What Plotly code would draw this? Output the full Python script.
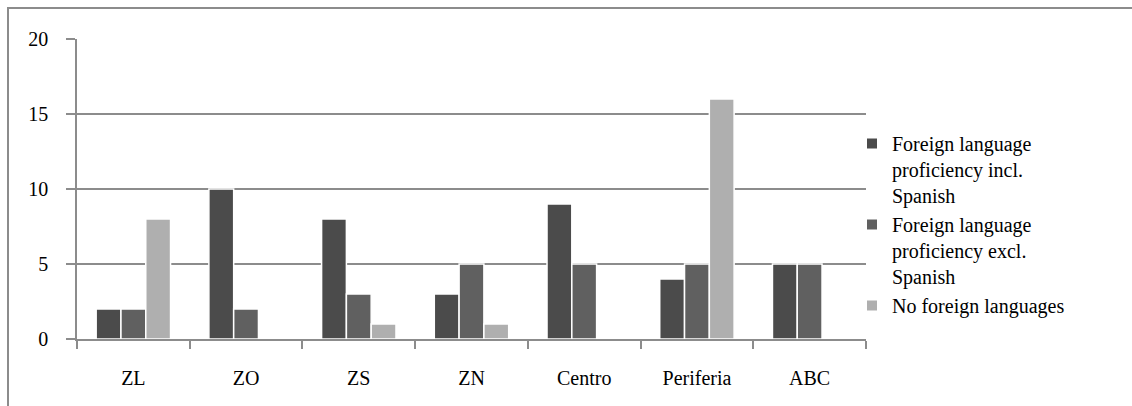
import plotly.graph_objects as go

categories = ["ZL", "ZO", "ZS", "ZN", "Centro", "Periferia", "ABC"]
incl_spanish = [2, 10, 8, 3, 9, 4, 5]
excl_spanish = [2, 2, 3, 5, 5, 5, 5]
no_foreign = [8, 0, 1, 1, 0, 16, 0]

names = [
    "Foreign language<br>proficiency incl.<br>Spanish",
    "Foreign language<br>proficiency excl.<br>Spanish",
    "No foreign languages",
]
colors = ["#4b4b4b", "#606060", "#afafaf"]
series = [incl_spanish, excl_spanish, no_foreign]

FONT = "'Times New Roman', 'Liberation Serif', 'DejaVu Serif', serif"
FS = 20

fig = go.Figure()
for name, vals, col in zip(names, series, colors):
    fig.add_trace(go.Bar(
        x=categories, y=vals, name=name,
        marker=dict(color=col, line=dict(color="white", width=1.5)),
    ))

W, H = 1132, 406
L, R, T, B = 77, 266, 39, 67
pw = W - L - R
ph = H - T - B

fig.update_layout(
    width=W, height=H,
    margin=dict(l=L, r=R, t=T, b=B, pad=0),
    paper_bgcolor="white", plot_bgcolor="white",
    barmode="group", bargap=0.34, bargroupgap=0,
    font=dict(family=FONT, size=FS, color="black"),
    showlegend=True,
    legend=dict(
        x=(852 - L) / pw, xanchor="left",
        y=(H - B - 124) / ph, yanchor="top",
        valign="top",
        font=dict(family=FONT, size=FS, color="black"),
        bgcolor="rgba(0,0,0,0)", traceorder="normal",
        itemsizing="constant", tracegroupgap=0,
    ),
    xaxis=dict(
        type="category", showgrid=False,
        showline=True, linecolor="#8c8c8c", linewidth=1.5,
        ticks="outside", tickson="boundaries", ticklen=8,
        tickcolor="#8c8c8c", tickwidth=1.5,
        ticklabelstandoff=20,
        tickfont=dict(family=FONT, size=FS),
    ),
    yaxis=dict(
        range=[0, 20], tickvals=[0, 5, 10, 15, 20],
        showgrid=True, gridcolor="#8c8c8c", gridwidth=1.5,
        showline=True, linecolor="#8c8c8c", linewidth=1.5,
        ticks="outside", ticklen=9, tickcolor="#8c8c8c", tickwidth=1.5,
        ticklabelstandoff=14, zeroline=False,
        tickfont=dict(family=FONT, size=FS),
    ),
)

# outer frame (top and left edges visible in the page)
fig.add_shape(type="line", xref="paper", yref="paper",
              x0=(7 - L) / pw, x1=(W + 5 - L) / pw,
              y0=(H - B - 8) / ph, y1=(H - B - 8) / ph,
              line=dict(color="#8c8c8c", width=2))
fig.add_shape(type="line", xref="paper", yref="paper",
              x0=(8 - L) / pw, x1=(8 - L) / pw,
              y0=(H - B - 8) / ph, y1=-(B + 5) / ph,
              line=dict(color="#8c8c8c", width=2))

fig.write_html("out.html")
